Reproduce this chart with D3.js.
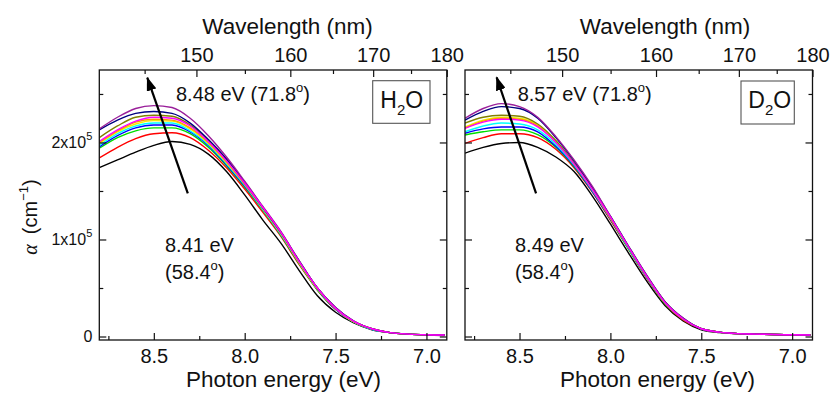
<!DOCTYPE html>
<html><head><meta charset="utf-8">
<script src="https://cdn.jsdelivr.net/npm/d3@7"></script>
<style>
body{margin:0;background:#fff}
text{font-family:"Liberation Sans",Arial,sans-serif;fill:#111}
</style>
</head><body>
<svg id="c" width="832" height="394"></svg>
<script>
// ---- data (alpha in units of 1e5 cm^-1) ----
const energy = [8.8,8.7,8.6,8.5,8.4,8.3,8.2,8.1,8.0,7.9,7.8,7.7,7.6,7.5,7.4,7.3,7.2,7.1,7.0,6.9];
const seriesNames = ["black","red","green","blue","cyan","yellow","orange","olive","navy","purple","magenta"];
const seriesColors = ["#000000","#ff0000","#00dd00","#0000ff","#00ffff","#f0f000","#ff9900","#808000","#000080","#9a1f9a","#ff00ff"];

const h2o_black   = [1.74,1.82,1.90,1.97,2.01,1.98,1.88,1.70,1.46,1.20,0.96,0.68,0.42,0.25,0.14,0.07,0.04,0.025,0.015,0.01];
const h2o_red     = [1.84,1.95,2.04,2.09,2.10,2.05,1.92,1.74,1.52,1.28,1.03,0.74,0.48,0.28,0.15,0.075,0.04,0.025,0.018,0.015];
const h2o_green   = [1.94,2.05,2.12,2.15,2.15,2.09,1.95,1.76,1.54,1.30,1.04,0.75,0.48,0.28,0.15,0.075,0.04,0.025,0.018,0.015];
const h2o_blue    = [1.955,2.07,2.15,2.18,2.18,2.11,1.97,1.77,1.55,1.31,1.05,0.76,0.49,0.28,0.15,0.075,0.04,0.025,0.018,0.015];
const h2o_cyan    = [1.97,2.09,2.17,2.20,2.20,2.12,1.98,1.78,1.56,1.31,1.05,0.76,0.49,0.29,0.15,0.075,0.04,0.025,0.018,0.015];
const h2o_yellow  = [1.99,2.11,2.19,2.225,2.22,2.14,1.99,1.79,1.57,1.32,1.06,0.76,0.49,0.29,0.15,0.08,0.04,0.025,0.018,0.015];
const h2o_orange  = [2.00,2.12,2.21,2.24,2.23,2.15,2.00,1.80,1.57,1.32,1.06,0.77,0.50,0.29,0.155,0.08,0.04,0.025,0.018,0.015];
const h2o_olive   = [2.05,2.17,2.26,2.28,2.27,2.18,2.02,1.82,1.58,1.33,1.07,0.77,0.50,0.29,0.155,0.08,0.04,0.025,0.018,0.015];
const h2o_navy    = [2.13,2.23,2.30,2.32,2.30,2.20,2.03,1.83,1.59,1.33,1.07,0.78,0.50,0.30,0.16,0.08,0.04,0.025,0.018,0.015];
const h2o_purple  = [2.14,2.26,2.35,2.38,2.36,2.25,2.07,1.85,1.60,1.34,1.08,0.78,0.50,0.30,0.16,0.08,0.04,0.025,0.018,0.015];
const h2o_magenta = [2.01,2.13,2.22,2.26,2.25,2.17,2.01,1.81,1.58,1.33,1.07,0.77,0.50,0.29,0.155,0.08,0.04,0.025,0.018,0.015];

const d2o_black   = [1.89,1.95,1.99,2.00,1.95,1.85,1.70,1.45,1.16,0.86,0.57,0.32,0.16,0.07,0.04,0.03,0.025,0.02,0.018,0.015];
const d2o_red     = [1.99,2.05,2.09,2.09,2.05,1.93,1.74,1.49,1.20,0.90,0.60,0.34,0.17,0.08,0.045,0.03,0.025,0.02,0.018,0.015];
const d2o_green   = [2.077,2.11,2.13,2.13,2.08,1.95,1.75,1.50,1.21,0.90,0.61,0.34,0.18,0.08,0.045,0.03,0.025,0.02,0.018,0.015];
const d2o_blue    = [2.095,2.14,2.16,2.16,2.11,1.96,1.76,1.50,1.21,0.91,0.61,0.35,0.18,0.08,0.045,0.03,0.025,0.02,0.018,0.015];
const d2o_cyan    = [2.11,2.17,2.20,2.19,2.13,1.98,1.77,1.51,1.22,0.91,0.61,0.35,0.18,0.08,0.045,0.03,0.025,0.02,0.018,0.015];
const d2o_yellow  = [2.16,2.23,2.26,2.25,2.18,2.01,1.78,1.52,1.22,0.92,0.62,0.35,0.18,0.08,0.045,0.03,0.025,0.02,0.018,0.015];
const d2o_orange  = [2.15,2.22,2.25,2.24,2.17,2.00,1.78,1.52,1.22,0.92,0.62,0.35,0.18,0.08,0.045,0.03,0.025,0.02,0.018,0.015];
const d2o_olive   = [2.20,2.26,2.28,2.27,2.19,2.02,1.79,1.53,1.23,0.92,0.62,0.36,0.18,0.08,0.045,0.03,0.025,0.02,0.018,0.015];
const d2o_navy    = [2.23,2.32,2.37,2.35,2.25,2.05,1.81,1.54,1.24,0.93,0.63,0.36,0.19,0.08,0.045,0.03,0.025,0.02,0.018,0.015];
const d2o_purple  = [2.25,2.35,2.40,2.37,2.26,2.06,1.82,1.55,1.24,0.93,0.63,0.36,0.19,0.08,0.045,0.03,0.025,0.02,0.018,0.015];
const d2o_magenta = [2.145,2.21,2.24,2.23,2.16,2.00,1.78,1.52,1.23,0.92,0.62,0.35,0.18,0.08,0.045,0.03,0.025,0.02,0.018,0.015];

const energyTicks = [8.5,8.0,7.5,7.0];
const energyMinor = [8.75,8.25,7.75,7.25];
const waveTicks = [150,160,170,180];
const waveMinor = [145,155,165,175];
const alphaTicks = [0,1,2];
const alphaMinor = [0.5,1.5,2.5];
const HC = 1239.84;

const h2oSeries = [h2o_black,h2o_red,h2o_green,h2o_blue,h2o_cyan,h2o_yellow,h2o_orange,h2o_olive,h2o_navy,h2o_purple,h2o_magenta];
const d2oSeries = [d2o_black,d2o_red,d2o_green,d2o_blue,d2o_cyan,d2o_yellow,d2o_orange,d2o_olive,d2o_navy,d2o_purple,d2o_magenta];

// ---- layout ----
const W = 347.5, H = 270, TOP = 70;
const svg = d3.select("#c");
const defs = svg.append("defs");
defs.append("marker").attr("id","ah").attr("viewBox","0 0 14 10")
  .attr("refX",13).attr("refY",5).attr("markerWidth",14).attr("markerHeight",10)
  .attr("markerUnits","userSpaceOnUse").attr("orient","auto")
  .append("path").attr("d","M0,0L14,5L0,10z").attr("fill","#000");

const x = d3.scaleLinear().domain([8.8, HC/180]).range([0, W]);
const y = d3.scaleLinear().domain([-0.036, 2.747]).range([H, 0]);

const panels = [
  {id:"p1", left:99.3, series:h2oSeries, mol:["H","2","O"], box:[273.4,10.7,57.3,42.6], boxTextX:281,
   topText:"8.48 eV (71.8", lowText:"8.41 eV", arrow:[[8.313,1.476],[8.536,2.668]],
   titleX:188.2, bTitleX:184.2, topTextX:76.7, lowTextX:65.7, yLabels:true},
  {id:"p2", left:465, series:d2oSeries, mol:["D","2","O"], box:[276,11,53.3,43], boxTextX:283.3,
   topText:"8.57 eV (71.8", lowText:"8.49 eV", arrow:[[8.409,1.476],[8.626,2.672]],
   titleX:200, bTitleX:192.5, topTextX:52.7, lowTextX:50, yLabels:false}
];

const line = d3.line().x((d,i)=>x(energy[i])).y(d=>y(d)).curve(d3.curveMonotoneX);

function styleAxis(g){
  g.select(".domain").remove();
  g.selectAll(".tick line").attr("stroke","#111").attr("stroke-width",1.2);
}

panels.forEach(p=>{
  const g = svg.append("g").attr("transform",`translate(${p.left},${TOP})`);
  defs.append("clipPath").attr("id","clip"+p.id).append("rect").attr("width",W).attr("height",H);

  // curves
  const cg = g.append("g").attr("clip-path",`url(#clip${p.id})`);
  p.series.forEach((vals,k)=>{
    cg.append("path").attr("d",line(vals)).attr("fill","none")
      .attr("stroke",seriesColors[k]).attr("stroke-width",1.4);
  });

  // bottom axis
  const gb = g.append("g").attr("transform",`translate(0,${H})`)
    .call(d3.axisBottom(x).tickValues(energyTicks).tickSize(-7).tickFormat(d3.format(".1f")));
  styleAxis(gb);
  gb.selectAll("text").attr("y",23).attr("dy",0).style("font-size","20px").attr("fill","#111");
  const gbm = g.append("g").attr("transform",`translate(0,${H})`)
    .call(d3.axisBottom(x).tickValues(energyMinor).tickSize(-4).tickFormat(""));
  styleAxis(gbm);

  // top axis (wavelength)
  const gt = g.append("g")
    .call(d3.axisTop(x).tickValues(waveTicks.map(w=>HC/w)).tickSize(-7).tickFormat((d,i)=>waveTicks[i]));
  styleAxis(gt);
  gt.selectAll("text").attr("y",-8.5).attr("dy",0).style("font-size","20px").attr("fill","#111");
  const gtm = g.append("g")
    .call(d3.axisTop(x).tickValues(waveMinor.map(w=>HC/w)).tickSize(-4).tickFormat(""));
  styleAxis(gtm);

  // left axis
  const gl = g.append("g").call(d3.axisLeft(y).tickValues(alphaTicks).tickSize(-7).tickFormat(""));
  styleAxis(gl);
  const glm = g.append("g").call(d3.axisLeft(y).tickValues(alphaMinor).tickSize(-4).tickFormat(""));
  styleAxis(glm);
  if(p.yLabels){
    gl.selectAll(".tick").each(function(d){
      const t = d3.select(this).append("text").attr("x",-7).attr("y",0).attr("dy","0.33em")
        .attr("text-anchor","end").style("font-size","16px").attr("fill","#111");
      if(d===0){ t.text("0"); }
      else {
        t.append("tspan").text(d+"x10");
        t.append("tspan").text("5").style("font-size","11px").attr("dy","-8");
      }
    });
  }
  // right axis
  const gr = g.append("g").attr("transform",`translate(${W},0)`)
    .call(d3.axisRight(y).tickValues(alphaTicks).tickSize(-7).tickFormat(""));
  styleAxis(gr);
  const grm = g.append("g").attr("transform",`translate(${W},0)`)
    .call(d3.axisRight(y).tickValues(alphaMinor).tickSize(-4).tickFormat(""));
  styleAxis(grm);

  // frame
  g.append("rect").attr("width",W).attr("height",H).attr("fill","none")
    .attr("stroke","#111").attr("stroke-width",1.3);

  // titles
  g.append("text").attr("x",p.titleX).attr("y",-36).attr("text-anchor","middle")
    .style("font-size","22.5px").text("Wavelength (nm)");
  g.append("text").attr("x",p.bTitleX).attr("y",H+47).attr("text-anchor","middle")
    .style("font-size","22.5px").text("Photon energy (eV)");

  // annotations
  const t1 = g.append("text").attr("x",p.topTextX).attr("y",31).style("font-size","20px");
  t1.append("tspan").text(p.topText);
  t1.append("tspan").text("o").style("font-size","13px").attr("dy","-9");
  t1.append("tspan").text(")").attr("dy","9");
  g.append("text").attr("x",p.lowTextX).attr("y",182).style("font-size","20px").text(p.lowText);
  const t3 = g.append("text").attr("x",p.lowTextX).attr("y",209).style("font-size","20px");
  t3.append("tspan").text("(58.4");
  t3.append("tspan").text("o").style("font-size","13px").attr("dy","-9");
  t3.append("tspan").text(")").attr("dy","9");

  // arrow
  g.append("line")
    .attr("x1",x(p.arrow[0][0])).attr("y1",y(p.arrow[0][1]))
    .attr("x2",x(p.arrow[1][0])).attr("y2",y(p.arrow[1][1]))
    .attr("stroke","#000").attr("stroke-width",2.2).attr("marker-end","url(#ah)");

  // molecule box
  g.append("rect").attr("x",p.box[0]).attr("y",p.box[1]).attr("width",p.box[2]).attr("height",p.box[3])
    .attr("fill","#fff").attr("stroke","#555").attr("stroke-width",1.1);
  const mt = g.append("text").attr("x",p.boxTextX).attr("y",38.3).style("font-size","23px");
  mt.append("tspan").text(p.mol[0]);
  mt.append("tspan").text(p.mol[1]).style("font-size","15px").attr("dy","7");
  mt.append("tspan").text(p.mol[2]).attr("dy","-7");
});

// y-axis title
const yt = svg.append("text").attr("transform","translate(37,217) rotate(-90)")
  .attr("text-anchor","middle").style("font-size","20px");
yt.append("tspan").text("α").style("font-style","italic").style("font-family","'Liberation Serif',serif");
yt.append("tspan").text("(cm").attr("dx","10");
yt.append("tspan").text("−1").style("font-size","13px").attr("dy","-9");
yt.append("tspan").text(")").attr("dy","9");
</script>
</body></html>
